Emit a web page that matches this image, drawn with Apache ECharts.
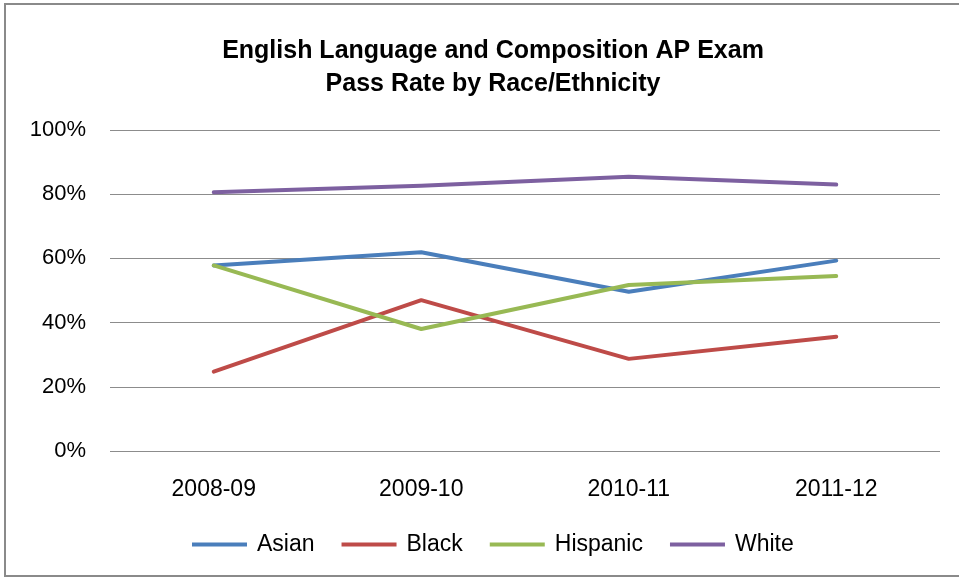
<!DOCTYPE html>
<html>
<head>
<meta charset="utf-8">
<script src="https://cdn.jsdelivr.net/npm/echarts@6/dist/echarts.min.js"></script>
<style>
  html, body { margin: 0; padding: 0; background: #fff; }
  #frame { position: absolute; left: 4px; top: 3px; width: 970px; height: 574px; border: 2px solid #8a8a8a; box-sizing: border-box; }
  #chart { position: absolute; left: 0; top: 0; width: 959px; height: 580px; }
</style>
</head>
<body>
<div id="frame"></div>
<div id="chart"></div>
<script>
// School years shown on the x axis
const years = ['2008-09', '2009-10', '2010-11', '2011-12'];

// Pass rate (%) per group
const asian    = [57.8, 61.9, 49.6, 59.3];
const black    = [24.7, 47.0, 28.7, 35.6];
const hispanic = [57.8, 38.0, 51.7, 54.5];
const white    = [80.6, 82.6, 85.4, 83.0];

const seriesNames = ['Asian', 'Black', 'Hispanic', 'White'];
const seriesColors = ['#4a7ebb', '#be4b48', '#98b954', '#7d60a0'];
const seriesData = [asian, black, hispanic, white];

const font = '"Liberation Sans", Arial, sans-serif';

const chart = echarts.init(document.getElementById('chart'));
chart.setOption({
  animation: false,
  backgroundColor: 'transparent',
  title: {
    text: 'English Language and Composition AP Exam\nPass Rate by Race/Ethnicity',
    left: 488,
    top: 30,
    textAlign: 'center',
    textStyle: { fontFamily: font, fontWeight: 'bold', fontSize: 25, color: '#000', lineHeight: 33 }
  },
  legend: {
    top: 528,
    left: 187,
    itemWidth: 55,
    itemHeight: 4,
    itemGap: 27,
    icon: 'rect',
    textStyle: { fontFamily: font, fontSize: 23, color: '#000', padding: [0, 0, 0, 5] },
    data: seriesNames
  },
  grid: { left: 110, right: 19, top: 130, bottom: 129 },
  xAxis: {
    type: 'category',
    data: years,
    boundaryGap: true,
    axisLine: { show: false },
    axisTick: { show: false },
    axisLabel: { fontFamily: font, fontSize: 23, color: '#000', margin: 27 }
  },
  yAxis: {
    type: 'value',
    min: 0,
    max: 100,
    interval: 20,
    axisLine: { show: false },
    axisTick: { show: false },
    axisLabel: { fontFamily: font, fontSize: 22, color: '#000', margin: 24, formatter: '{value}%' },
    splitLine: { lineStyle: { color: '#8c8c8c', width: 1 } }
  },
  series: seriesNames.map((name, i) => ({
    name: name,
    type: 'line',
    data: seriesData[i],
    symbol: 'none',
    color: seriesColors[i],
    lineStyle: { width: 4, color: seriesColors[i], cap: 'round', join: 'round' }
  }))
});
</script>
</body>
</html>
